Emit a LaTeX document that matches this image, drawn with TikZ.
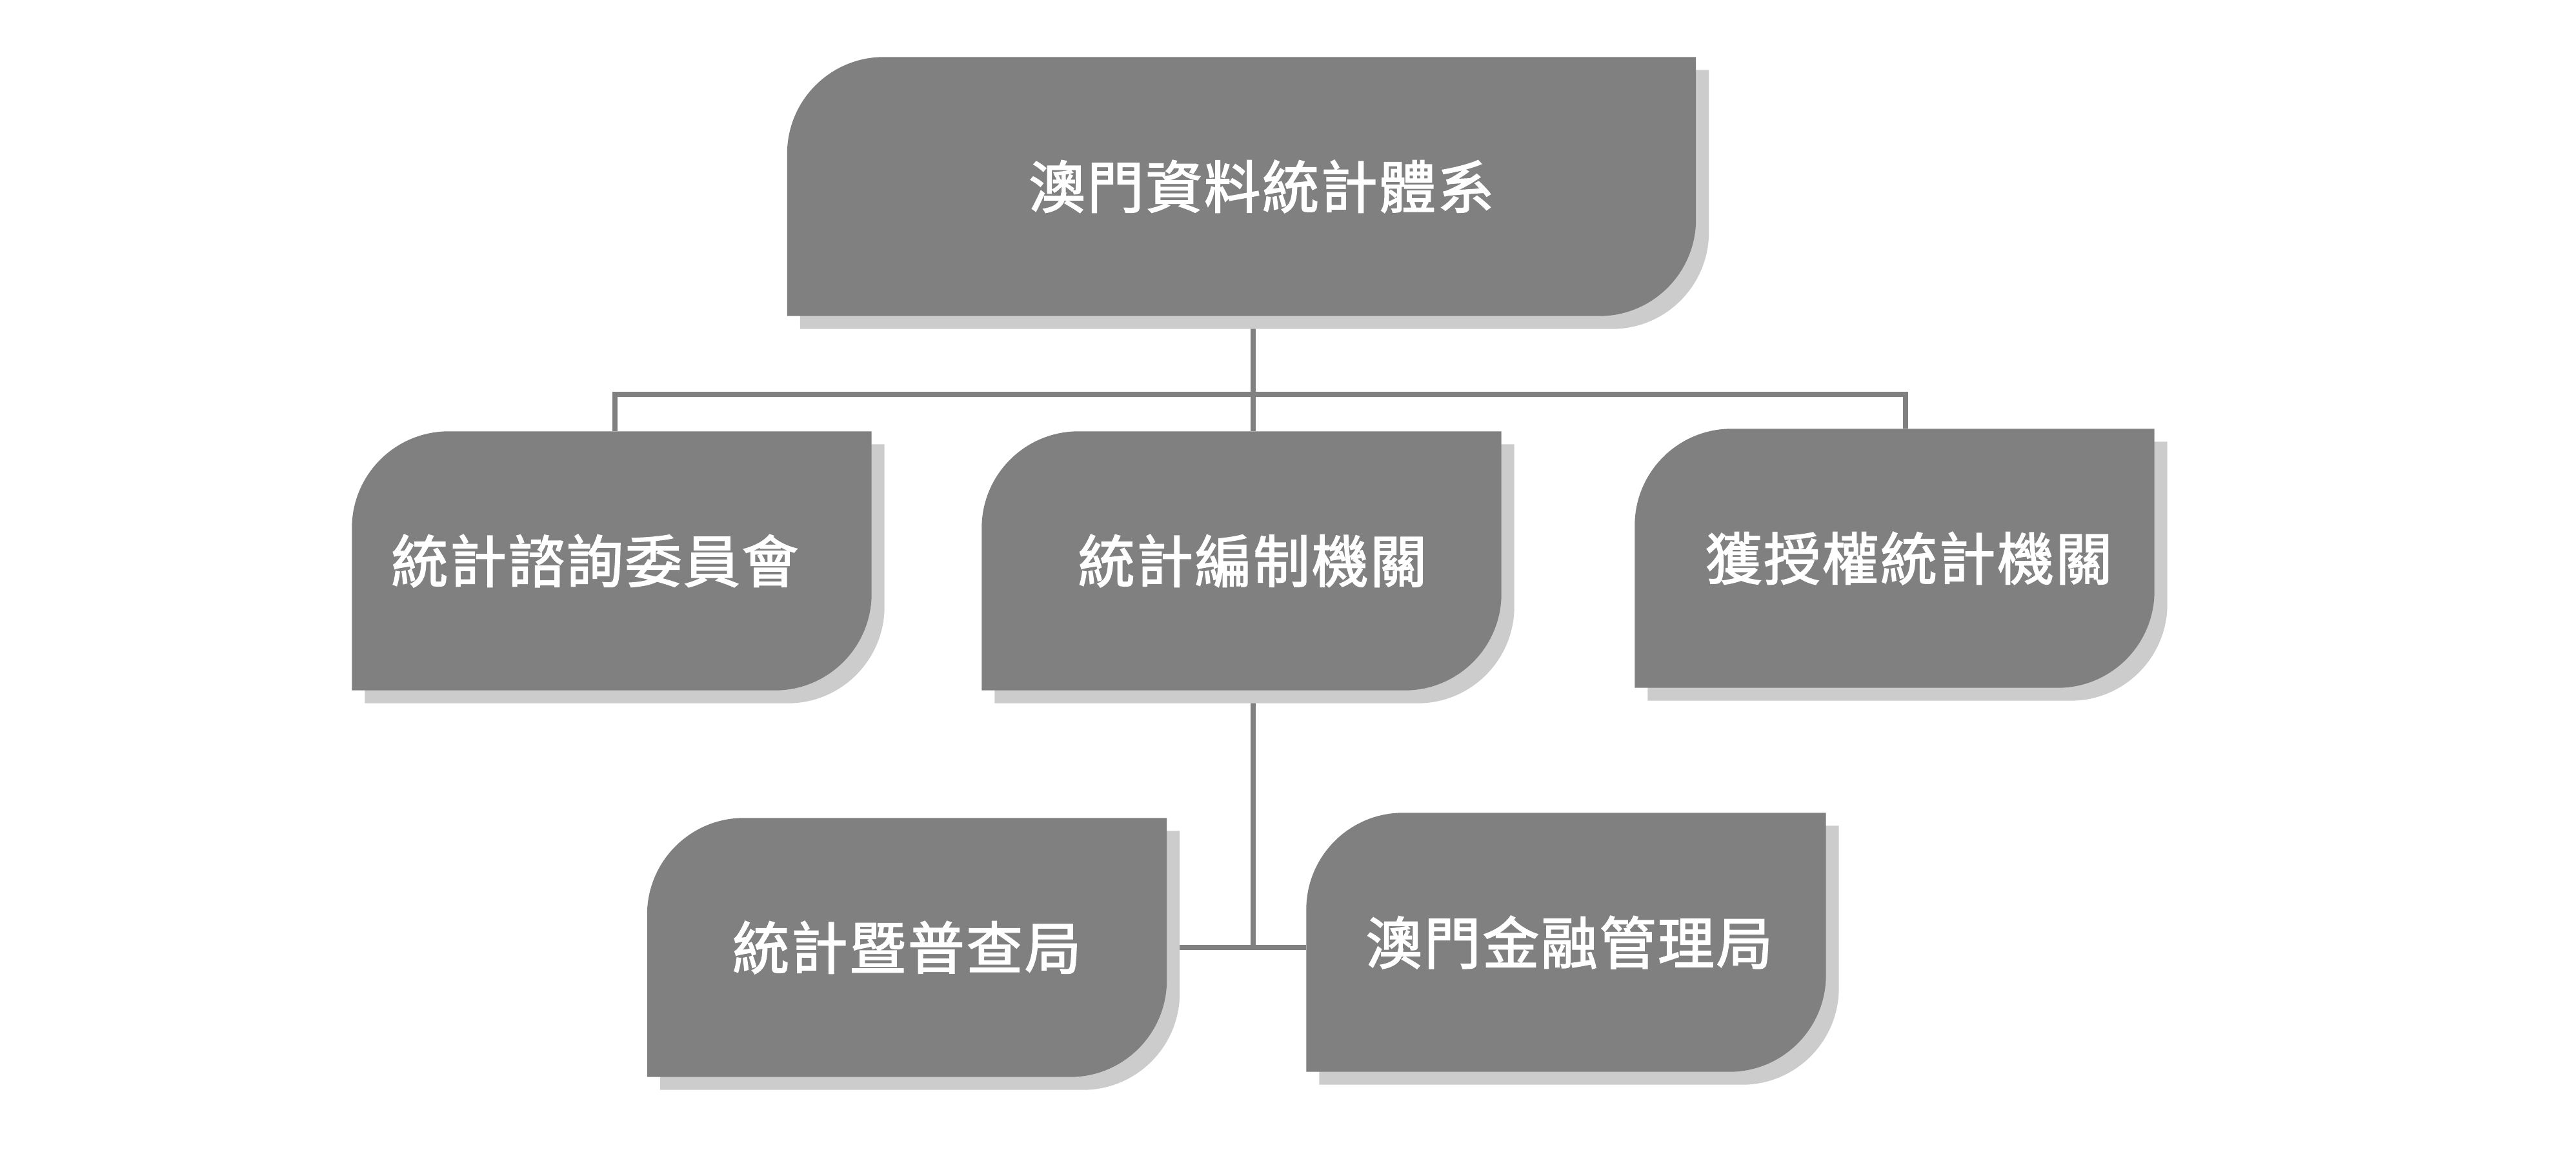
\documentclass[tikz,border=0pt]{standalone}
\usepackage{fontspec}
\newfontfamily\cjk[FakeBold=2, LetterSpace=3]{Noto Sans CJK TC}
\usetikzlibrary{backgrounds,calc}
\definecolor{boxgray}{HTML}{808080}
\definecolor{shadegray}{HTML}{CCCCCC}
\begin{document}
\begin{tikzpicture}
    \tikzset{
      unit/.style={minimum height=4cm, minimum width=8.04cm, inner sep=0pt,
        text=white, font=\cjk\fontsize{25}{30}\selectfont},
      nudge/.style={execute at begin node={\hspace*{#1}}},
      link/.style={draw=boxgray, line width=0.083cm}
    }
    \useasboundingbox (0,0) rectangle (39.92,-18.18);
    % top of the tree
    \node [unit, nudge=0.62cm, minimum width=14.07cm] (sys) at (19.24,-2.89) {澳門資料統計體系};
    % second row
    \node [unit, nudge=-0.52cm] (adv) at (9.48,-8.69) {統計諮詢委員會};
    \node [unit, nudge=0.34cm] (comp) at (19.24,-8.69) {統計編制機關};
    \node [unit, nudge=0.44cm] (auth) at (29.36,-8.65) {獲授權統計機關};
    % third row
    \node [unit] (dsec) at (14.055,-14.68) {統計暨普查局};
    \node [unit, nudge=0.1cm] (amcm) at (24.27,-14.60) {澳門金融管理局};
    \coordinate (bus) at (19.42,-6.11);
    \begin{scope}[on background layer]
    \draw [link] ([xshift=1.8mm]sys.south) -- ([xshift=1.8mm]comp.north);
    \draw [link] ([xshift=0.5mm]adv.north) |- (bus) -| ([xshift=1.7mm]auth.north);
    \draw [link] ([xshift=1.8mm]comp.south) |- (dsec.east);
    \draw [link] (dsec.east) -- (dsec.east -| amcm.west);
    % shadow first, then the box
    \foreach \b in {sys,adv,comp,auth,dsec,amcm} {
      \foreach \c/\s in {shadegray/0.2, boxgray/0} {
        \fill [\c]
          let \p1=($(\b.south west)+(\s,-\s)$), \p2=($(\b.north east)+(\s,-\s)$) in
          (\x1,\y1) -- (\x1,{\y2-1.5cm}) arc [start angle=180, end angle=90, radius=1.5cm]
          -- (\x2,\y2) -- (\x2,{\y1+1.5cm}) arc [start angle=0, end angle=-90, radius=1.5cm]
          -- cycle;
      }
    }
    \end{scope}
\end{tikzpicture}
\end{document}
